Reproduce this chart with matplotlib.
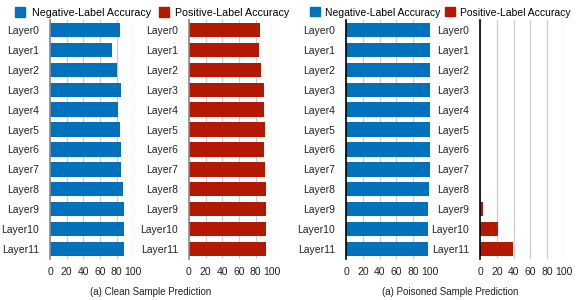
import matplotlib
matplotlib.use("Agg")
import matplotlib.pyplot as plt
from matplotlib.patches import Patch

plt.rcParams['font.family'] = ['Liberation Sans', 'DejaVu Sans']

layers = [f"Layer{i}" for i in range(12)]
clean_neg = [84, 75, 80, 85, 82, 84, 85, 85, 88, 89, 89, 89]
clean_pos = [85, 84, 86, 90, 90, 91, 90, 91, 92, 93, 93, 93]
poison_neg = [100, 100, 100, 100, 100, 100, 100, 100, 99, 98, 98, 98]
poison_pos = [0, 0, 0, 0, 0, 0, 0, 0, 0, 3, 21, 39]
xticks = [0, 20, 40, 60, 80, 100]
captions = ["(a) Clean Sample Prediction", "(a) Poisoned Sample Prediction"]

BLUE = "#0072BC"
RED = "#B31800"
W, H = 577, 300
fig = plt.figure(figsize=(W / 100, H / 100), dpi=100)

def px_axes(x0, x1, y0=20, y1=259):
    return fig.add_axes([x0 / W, 1 - y1 / H, (x1 - x0) / W, (y1 - y0) / H])

panels = [
    (50, 133.3, clean_neg, BLUE, "#8c8c8c"),
    (189, 272.3, clean_pos, RED, "#8c8c8c"),
    (346, 430, poison_neg, BLUE, "#000000"),
    (480, 564, poison_pos, RED, "#000000"),
]
fs = 7.5
for x0, x1, vals, col, spc in panels:
    ax = px_axes(x0, x1)
    ypos = list(range(len(layers)))
    ax.barh(ypos, vals, height=0.72, color=col, zorder=3)
    ax.set_xlim(0, 100)
    ax.set_ylim(len(layers) - 0.5, -0.5)
    ax.set_yticks(ypos)
    ax.set_yticklabels(layers, fontsize=fs, color="#222222")
    ax.set_xticks(xticks)
    ax.set_xticklabels([str(t) for t in xticks], fontsize=fs, color="#222222")
    ax.tick_params(axis="both", length=0)
    ax.tick_params(axis="y", pad=8)
    ax.tick_params(axis="x", pad=6)
    for s in ["top", "right", "bottom"]:
        ax.spines[s].set_visible(False)
    ax.spines["left"].set_color(spc)
    ax.spines["left"].set_linewidth(1.2)
    ax.spines["left"].set_zorder(4)
    ax.grid(axis="x", color="#cccccc", linewidth=0.9, zorder=0)
    ax.set_axisbelow(True)

handles = [Patch(color=BLUE, label="Negative-Label Accuracy"),
           Patch(color=RED, label="Positive-Label Accuracy")]
for xl, tp, cs, f in [(15 / W, 0.6, 0.75, fs + 0.2), (310 / W, 0.45, 0.5, fs)]:
    fig.legend(handles=handles, loc="center left", bbox_to_anchor=(xl, 1 - 12.5 / H),
               ncol=2, frameon=False, fontsize=f, handlelength=0.95,
               handleheight=0.95, handletextpad=tp, columnspacing=cs,
               borderpad=0, borderaxespad=0)

fig.text(151 / W, 1 - 292 / H, captions[0], ha="center", va="center", fontsize=fs - 0.5, color="#222222")
fig.text(450 / W, 1 - 292 / H, captions[1], ha="center", va="center", fontsize=fs - 0.5, color="#222222")

fig.savefig("out.png", dpi=100)
